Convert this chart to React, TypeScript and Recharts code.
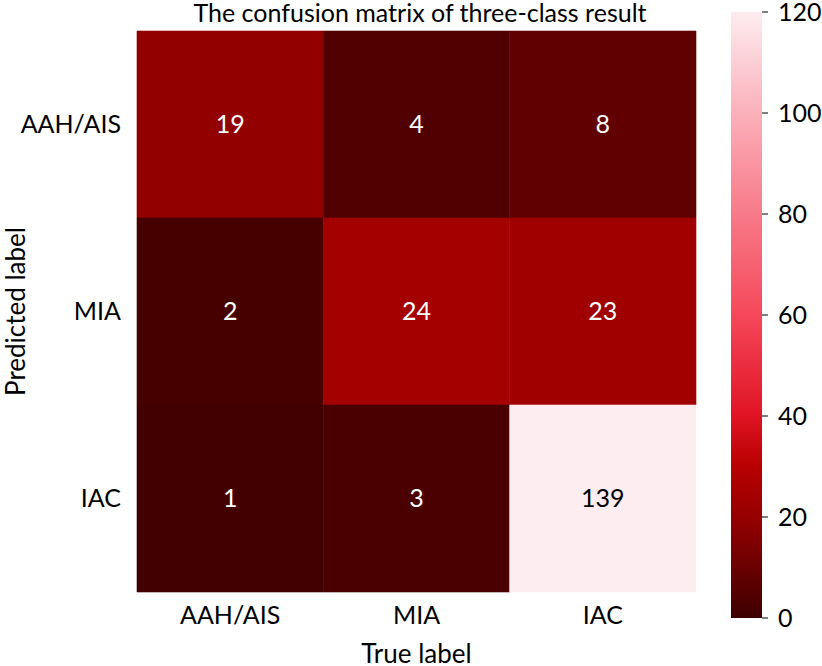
import React from 'react';
import {
  ScatterChart,
  Scatter,
  XAxis,
  YAxis,
  ReferenceArea,
  BarChart,
  Bar,
  Label,
} from 'recharts';

const classes = ['AAH/AIS', 'MIA', 'IAC'];
// rows = predicted label, columns = true label
const aahRow = [19, 4, 8];
const miaRow = [2, 24, 23];
const iacRow = [1, 3, 139];
const matrix = [aahRow, miaRow, iacRow];
const colorbarTicks = [0, 20, 40, 60, 80, 100, 120];

const FONT = 'Lato, "Open Sans", sans-serif';
const VMAX = 120;

// colormap stops: dark red -> red -> pink -> near white
const cmap: [number, number[]][] = [
  [0, [62, 0, 0]],
  [20, [150, 0, 0]],
  [30, [184, 0, 0]],
  [40, [224, 20, 36]],
  [60, [245, 72, 90]],
  [80, [247, 122, 136]],
  [100, [251, 176, 186]],
  [120, [253, 236, 240]],
];

function colorFor(v: number) {
  const x = Math.min(Math.max(v, 0), VMAX);
  for (let i = 0; i < cmap.length - 1; i++) {
    const [a, ca] = cmap[i];
    const [b, cb] = cmap[i + 1];
    if (x >= a && x <= b) {
      const t = (x - a) / (b - a);
      const c = ca.map((k, j) => Math.round(k + (cb[j] - k) * t));
      return `rgb(${c[0]},${c[1]},${c[2]})`;
    }
  }
  return 'rgb(253,236,240)';
}

const cells = matrix.flatMap((row, r) =>
  row.map((v, c) => ({ x: c + 0.5, y: r + 0.5, v }))
);

const tickPos = [0.5, 1.5, 2.5];
const classTick = (v: number) => classes[Math.floor(v)] ?? '';

export default function App() {
  return (
    <div
      style={{
        position: 'absolute',
        left: 0,
        top: 0,
        width: 822,
        height: 666,
        background: '#fff',
        fontFamily: FONT,
      }}
    >
      <div style={{ position: 'absolute', left: 0, top: 0 }}>
        <ScatterChart
          width={822}
          height={666}
          margin={{ top: 31, right: 126, left: 10, bottom: 34 }}
        >
          <XAxis
            type='number'
            dataKey='x'
            domain={[0, 3]}
            ticks={tickPos}
            tickFormatter={classTick}
            axisLine={false}
            tickLine={false}
            tickMargin={8}
            height={40}
            tick={{ fill: '#000', fontSize: 25, fontFamily: FONT }}
          >
            <Label
              value='True label'
              position='bottom'
              offset={13}
              style={{ fill: '#000', fontSize: 26, fontFamily: FONT }}
            />
          </XAxis>
          <YAxis
            type='number'
            dataKey='y'
            domain={[0, 3]}
            reversed
            ticks={tickPos}
            tickFormatter={classTick}
            axisLine={false}
            tickLine={false}
            tickMargin={10}
            width={127}
            tick={{ fill: '#000', fontSize: 25, fontFamily: FONT }}
          >
            <Label
              value='Predicted label'
              angle={-90}
              position='insideLeft'
              offset={6}
              style={{
                fill: '#000',
                fontSize: 26,
                fontFamily: FONT,
                textAnchor: 'middle',
              }}
            />
          </YAxis>
          {matrix.map((row, r) =>
            row.map((v, c) => (
              <ReferenceArea
                key={`${r}-${c}`}
                x1={c}
                x2={c + 1}
                y1={r}
                y2={r + 1}
                fill={colorFor(v)}
                fillOpacity={1}
                stroke={colorFor(v)}
                strokeWidth={0.6}
                ifOverflow='visible'
                label={{
                  value: String(v),
                  position: 'center',
                  fill: v > 60 ? '#000' : '#fff',
                  fontSize: 25,
                  fontFamily: FONT,
                }}
              />
            ))
          )}
          <Scatter
            data={cells}
            isAnimationActive={false}
            shape={() => <g />}
          />
          <text
            x={420}
            y={16}
            textAnchor='middle'
            dominantBaseline='middle'
            style={{ fill: '#000', fontSize: 25, fontFamily: FONT }}
          >
            The confusion matrix of three-class result
          </text>
        </ScatterChart>
      </div>
      <div style={{ position: 'absolute', left: 731, top: 0 }}>
        <BarChart
          width={91}
          height={666}
          data={[{ name: 'cbar', v: VMAX }]}
          margin={{ top: 12, right: 0, left: 0, bottom: 48 }}
          barCategoryGap={0}
        >
          <defs>
            <linearGradient id='cmapGrad' x1='0' y1='0' x2='0' y2='1'>
              {[...cmap].reverse().map(([v, c]) => (
                <stop
                  key={v}
                  offset={`${((VMAX - v) / VMAX) * 100}%`}
                  stopColor={`rgb(${c[0]},${c[1]},${c[2]})`}
                />
              ))}
            </linearGradient>
          </defs>
          <XAxis dataKey='name' hide />
          <YAxis
            orientation='right'
            domain={[0, VMAX]}
            ticks={colorbarTicks}
            width={60}
            axisLine={false}
            tickLine={{ stroke: '#000' }}
            tickSize={6}
            tickMargin={10}
            interval={0}
            tick={{ fill: '#000', fontSize: 25, fontFamily: FONT }}
          />
          <Bar dataKey='v' fill='url(#cmapGrad)' isAnimationActive={false} />
        </BarChart>
      </div>
    </div>
  );
}
